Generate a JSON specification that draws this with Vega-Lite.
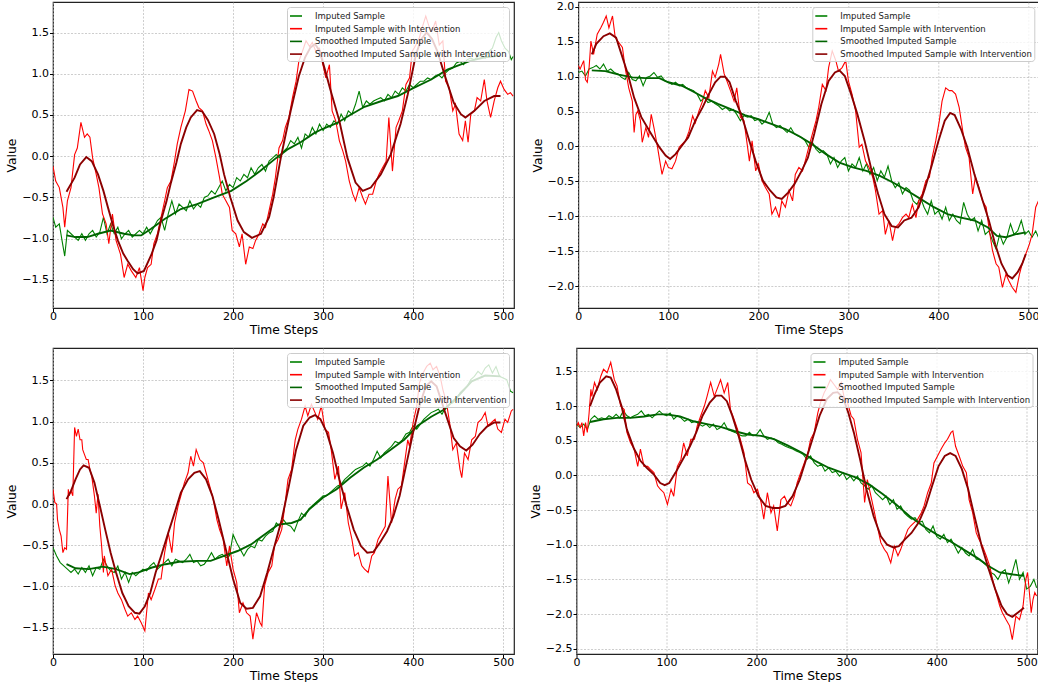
{
"$schema": "https://vega.github.io/schema/vega-lite/v6.json",
"background": "white",
"padding": {"left": 5, "top": 0, "right": 0, "bottom": 0},
"spacing": 11,
"resolve": {"scale": {"color": "independent"}, "legend": {"color": "independent"}},
"datasets": {
"a1": [{"t":0,"v":-0.74},{"t":3,"v":-0.86},{"t":7,"v":-0.82},{"t":10,"v":-1.02},{"t":13,"v":-1.21},{"t":16,"v":-0.90},{"t":20,"v":-0.94},{"t":24,"v":-0.98},{"t":28,"v":-1.02},{"t":32,"v":-0.94},{"t":36,"v":-1.02},{"t":40,"v":-0.94},{"t":44,"v":-0.90},{"t":48,"v":-0.98},{"t":52,"v":-0.92},{"t":56,"v":-0.74},{"t":60,"v":-0.94},{"t":64,"v":-0.82},{"t":68,"v":-0.94},{"t":72,"v":-0.86},{"t":76,"v":-1.00},{"t":80,"v":-0.94},{"t":84,"v":-0.90},{"t":88,"v":-0.98},{"t":92,"v":-0.94},{"t":96,"v":-0.90},{"t":100,"v":-0.94},{"t":104,"v":-0.86},{"t":108,"v":-0.94},{"t":112,"v":-0.86},{"t":116,"v":-0.78},{"t":120,"v":-0.74},{"t":124,"v":-0.90},{"t":128,"v":-0.70},{"t":132,"v":-0.54},{"t":136,"v":-0.70},{"t":140,"v":-0.58},{"t":144,"v":-0.62},{"t":148,"v":-0.66},{"t":152,"v":-0.54},{"t":156,"v":-0.64},{"t":160,"v":-0.58},{"t":164,"v":-0.62},{"t":168,"v":-0.50},{"t":172,"v":-0.48},{"t":176,"v":-0.42},{"t":180,"v":-0.46},{"t":184,"v":-0.38},{"t":188,"v":-0.30},{"t":192,"v":-0.42},{"t":196,"v":-0.34},{"t":200,"v":-0.38},{"t":204,"v":-0.26},{"t":208,"v":-0.30},{"t":212,"v":-0.22},{"t":216,"v":-0.26},{"t":220,"v":-0.14},{"t":224,"v":-0.22},{"t":228,"v":-0.14},{"t":232,"v":-0.10},{"t":236,"v":-0.18},{"t":240,"v":-0.06},{"t":244,"v":-0.02},{"t":248,"v":0.02},{"t":252,"v":-0.02},{"t":256,"v":0.06},{"t":260,"v":0.10},{"t":264,"v":0.19},{"t":268,"v":0.15},{"t":272,"v":0.23},{"t":276,"v":0.10},{"t":280,"v":0.27},{"t":284,"v":0.23},{"t":288,"v":0.35},{"t":292,"v":0.27},{"t":296,"v":0.39},{"t":300,"v":0.31},{"t":304,"v":0.39},{"t":308,"v":0.35},{"t":312,"v":0.43},{"t":316,"v":0.39},{"t":320,"v":0.51},{"t":324,"v":0.43},{"t":328,"v":0.55},{"t":332,"v":0.51},{"t":336,"v":0.63},{"t":340,"v":0.79},{"t":344,"v":0.59},{"t":348,"v":0.67},{"t":352,"v":0.63},{"t":356,"v":0.67},{"t":360,"v":0.69},{"t":364,"v":0.71},{"t":368,"v":0.67},{"t":372,"v":0.75},{"t":376,"v":0.71},{"t":380,"v":0.79},{"t":384,"v":0.75},{"t":388,"v":0.83},{"t":392,"v":0.79},{"t":396,"v":0.87},{"t":400,"v":0.83},{"t":404,"v":0.87},{"t":408,"v":0.91},{"t":412,"v":0.91},{"t":416,"v":0.95},{"t":420,"v":0.93},{"t":424,"v":0.97},{"t":428,"v":0.99},{"t":432,"v":0.95},{"t":436,"v":1.01},{"t":440,"v":1.05},{"t":444,"v":1.07},{"t":448,"v":1.13},{"t":452,"v":1.15},{"t":456,"v":1.11},{"t":460,"v":1.17},{"t":464,"v":1.19},{"t":468,"v":1.17},{"t":472,"v":1.21},{"t":476,"v":1.23},{"t":480,"v":1.19},{"t":484,"v":1.27},{"t":488,"v":1.31},{"t":492,"v":1.44},{"t":495,"v":1.50},{"t":498,"v":1.40},{"t":502,"v":1.31},{"t":506,"v":1.27},{"t":509,"v":1.17},{"t":511,"v":1.21}],
"b1": [{"t":0,"v":-0.12},{"t":3,"v":-0.30},{"t":7,"v":-0.38},{"t":11,"v":-0.62},{"t":13,"v":-0.86},{"t":16,"v":-0.54},{"t":20,"v":-0.38},{"t":24,"v":0.02},{"t":27,"v":0.10},{"t":31,"v":0.41},{"t":35,"v":0.23},{"t":38,"v":0.27},{"t":41,"v":0.23},{"t":44,"v":-0.02},{"t":48,"v":-0.22},{"t":51,"v":-0.38},{"t":55,"v":-0.70},{"t":59,"v":-0.82},{"t":62,"v":-1.06},{"t":66,"v":-0.70},{"t":70,"v":-1.02},{"t":75,"v":-1.19},{"t":79,"v":-1.47},{"t":83,"v":-1.31},{"t":87,"v":-1.39},{"t":92,"v":-1.47},{"t":96,"v":-1.35},{"t":100,"v":-1.63},{"t":102,"v":-1.47},{"t":105,"v":-1.35},{"t":109,"v":-1.31},{"t":112,"v":-1.06},{"t":116,"v":-0.94},{"t":120,"v":-0.74},{"t":124,"v":-0.54},{"t":127,"v":-0.38},{"t":131,"v":-0.30},{"t":135,"v":-0.06},{"t":138,"v":0.15},{"t":142,"v":0.35},{"t":147,"v":0.55},{"t":151,"v":0.81},{"t":155,"v":0.79},{"t":159,"v":0.67},{"t":162,"v":0.59},{"t":166,"v":0.55},{"t":170,"v":0.39},{"t":173,"v":0.31},{"t":177,"v":0.19},{"t":181,"v":-0.02},{"t":185,"v":-0.26},{"t":188,"v":-0.46},{"t":192,"v":-0.54},{"t":196,"v":-0.62},{"t":199,"v":-0.90},{"t":203,"v":-0.94},{"t":207,"v":-1.10},{"t":210,"v":-0.94},{"t":214,"v":-1.31},{"t":218,"v":-1.10},{"t":222,"v":-1.12},{"t":225,"v":-1.02},{"t":229,"v":-0.94},{"t":233,"v":-0.82},{"t":236,"v":-0.86},{"t":240,"v":-0.66},{"t":244,"v":-0.46},{"t":247,"v":-0.26},{"t":251,"v":0.10},{"t":255,"v":0.19},{"t":258,"v":0.35},{"t":262,"v":0.47},{"t":266,"v":0.71},{"t":270,"v":0.91},{"t":273,"v":1.15},{"t":277,"v":1.27},{"t":281,"v":1.40},{"t":285,"v":1.33},{"t":288,"v":1.38},{"t":292,"v":1.27},{"t":296,"v":1.31},{"t":299,"v":1.15},{"t":303,"v":0.95},{"t":307,"v":1.11},{"t":310,"v":0.55},{"t":314,"v":0.43},{"t":318,"v":0.19},{"t":322,"v":0.06},{"t":325,"v":-0.06},{"t":329,"v":-0.30},{"t":333,"v":-0.46},{"t":336,"v":-0.54},{"t":340,"v":-0.38},{"t":344,"v":-0.50},{"t":347,"v":-0.58},{"t":351,"v":-0.46},{"t":355,"v":-0.46},{"t":359,"v":-0.30},{"t":362,"v":-0.22},{"t":366,"v":-0.14},{"t":370,"v":-0.06},{"t":373,"v":0.47},{"t":377,"v":-0.18},{"t":381,"v":0.35},{"t":384,"v":0.43},{"t":388,"v":0.55},{"t":392,"v":0.87},{"t":396,"v":0.95},{"t":399,"v":1.27},{"t":403,"v":1.35},{"t":407,"v":1.44},{"t":410,"v":1.56},{"t":414,"v":1.70},{"t":418,"v":1.56},{"t":421,"v":1.52},{"t":425,"v":1.64},{"t":429,"v":1.35},{"t":433,"v":1.40},{"t":436,"v":0.91},{"t":440,"v":0.83},{"t":444,"v":0.55},{"t":447,"v":0.63},{"t":451,"v":0.27},{"t":455,"v":0.19},{"t":458,"v":0.43},{"t":461,"v":0.17},{"t":464,"v":0.51},{"t":468,"v":0.55},{"t":471,"v":0.71},{"t":475,"v":0.67},{"t":479,"v":0.93},{"t":482,"v":0.67},{"t":486,"v":0.47},{"t":490,"v":0.67},{"t":494,"v":0.83},{"t":497,"v":0.91},{"t":501,"v":0.81},{"t":505,"v":0.75},{"t":508,"v":0.77},{"t":511,"v":0.73}],
"c1": [{"t":15,"v":-0.96},{"t":25,"v":-0.98},{"t":38,"v":-0.98},{"t":50,"v":-0.94},{"t":64,"v":-0.90},{"t":79,"v":-0.94},{"t":90,"v":-0.96},{"t":98,"v":-0.96},{"t":109,"v":-0.88},{"t":124,"v":-0.76},{"t":142,"v":-0.64},{"t":160,"v":-0.58},{"t":179,"v":-0.50},{"t":198,"v":-0.42},{"t":215,"v":-0.30},{"t":230,"v":-0.18},{"t":248,"v":-0.02},{"t":260,"v":0.08},{"t":275,"v":0.17},{"t":290,"v":0.28},{"t":299,"v":0.33},{"t":315,"v":0.40},{"t":330,"v":0.50},{"t":346,"v":0.60},{"t":365,"v":0.67},{"t":383,"v":0.73},{"t":399,"v":0.82},{"t":420,"v":0.93},{"t":438,"v":1.05},{"t":464,"v":1.16},{"t":480,"v":1.20},{"t":497,"v":1.22}],
"d1": [{"t":15,"v":-0.43},{"t":24,"v":-0.26},{"t":30,"v":-0.10},{"t":37,"v":-0.01},{"t":43,"v":-0.06},{"t":50,"v":-0.22},{"t":56,"v":-0.42},{"t":61,"v":-0.62},{"t":67,"v":-0.85},{"t":72,"v":-1.02},{"t":78,"v":-1.18},{"t":83,"v":-1.27},{"t":89,"v":-1.37},{"t":94,"v":-1.42},{"t":101,"v":-1.39},{"t":109,"v":-1.20},{"t":115,"v":-1.02},{"t":120,"v":-0.78},{"t":126,"v":-0.55},{"t":131,"v":-0.32},{"t":137,"v":-0.08},{"t":142,"v":0.15},{"t":148,"v":0.35},{"t":153,"v":0.47},{"t":160,"v":0.56},{"t":166,"v":0.54},{"t":172,"v":0.44},{"t":179,"v":0.27},{"t":185,"v":0.03},{"t":190,"v":-0.22},{"t":197,"v":-0.50},{"t":205,"v":-0.78},{"t":212,"v":-0.92},{"t":221,"v":-0.99},{"t":231,"v":-0.94},{"t":240,"v":-0.74},{"t":245,"v":-0.50},{"t":249,"v":-0.26},{"t":253,"v":-0.02},{"t":257,"v":0.19},{"t":264,"v":0.55},{"t":273,"v":0.97},{"t":280,"v":1.20},{"t":286,"v":1.32},{"t":291,"v":1.36},{"t":296,"v":1.28},{"t":302,"v":1.05},{"t":308,"v":0.81},{"t":318,"v":0.43},{"t":327,"v":-0.02},{"t":336,"v":-0.32},{"t":344,"v":-0.42},{"t":353,"v":-0.38},{"t":364,"v":-0.22},{"t":375,"v":0.02},{"t":386,"v":0.39},{"t":394,"v":0.75},{"t":403,"v":1.23},{"t":409,"v":1.42},{"t":415,"v":1.50},{"t":421,"v":1.42},{"t":427,"v":1.27},{"t":436,"v":0.95},{"t":445,"v":0.65},{"t":453,"v":0.51},{"t":458,"v":0.47},{"t":468,"v":0.55},{"t":479,"v":0.67},{"t":490,"v":0.73},{"t":497,"v":0.73}],
"a2": [{"t":0,"v":1.06},{"t":4,"v":1.08},{"t":8,"v":1.01},{"t":12,"v":1.11},{"t":16,"v":1.13},{"t":20,"v":1.16},{"t":24,"v":1.11},{"t":28,"v":1.18},{"t":32,"v":1.08},{"t":36,"v":1.11},{"t":40,"v":1.06},{"t":44,"v":1.04},{"t":48,"v":0.99},{"t":52,"v":0.96},{"t":56,"v":1.06},{"t":60,"v":0.96},{"t":64,"v":0.94},{"t":68,"v":1.01},{"t":72,"v":0.87},{"t":76,"v":0.99},{"t":80,"v":1.01},{"t":84,"v":1.06},{"t":88,"v":0.99},{"t":92,"v":1.01},{"t":96,"v":0.94},{"t":100,"v":0.92},{"t":104,"v":0.89},{"t":108,"v":0.92},{"t":112,"v":0.87},{"t":116,"v":0.89},{"t":120,"v":0.84},{"t":124,"v":0.82},{"t":128,"v":0.80},{"t":132,"v":0.75},{"t":136,"v":0.65},{"t":140,"v":0.70},{"t":144,"v":0.63},{"t":148,"v":0.65},{"t":152,"v":0.61},{"t":156,"v":0.58},{"t":160,"v":0.53},{"t":164,"v":0.56},{"t":168,"v":0.51},{"t":172,"v":0.53},{"t":176,"v":0.46},{"t":180,"v":0.37},{"t":184,"v":0.44},{"t":188,"v":0.42},{"t":192,"v":0.44},{"t":196,"v":0.37},{"t":200,"v":0.39},{"t":204,"v":0.32},{"t":208,"v":0.37},{"t":212,"v":0.49},{"t":216,"v":0.32},{"t":220,"v":0.27},{"t":224,"v":0.30},{"t":228,"v":0.25},{"t":232,"v":0.20},{"t":236,"v":0.27},{"t":240,"v":0.18},{"t":244,"v":0.15},{"t":248,"v":0.13},{"t":252,"v":0.08},{"t":256,"v":-0.01},{"t":260,"v":0.06},{"t":264,"v":-0.04},{"t":268,"v":-0.09},{"t":272,"v":-0.06},{"t":276,"v":-0.11},{"t":280,"v":-0.25},{"t":284,"v":-0.16},{"t":288,"v":-0.30},{"t":292,"v":-0.21},{"t":296,"v":-0.16},{"t":300,"v":-0.35},{"t":304,"v":-0.25},{"t":308,"v":-0.30},{"t":312,"v":-0.16},{"t":316,"v":-0.35},{"t":320,"v":-0.25},{"t":324,"v":-0.40},{"t":328,"v":-0.30},{"t":332,"v":-0.49},{"t":336,"v":-0.35},{"t":340,"v":-0.44},{"t":344,"v":-0.28},{"t":348,"v":-0.49},{"t":352,"v":-0.59},{"t":356,"v":-0.52},{"t":360,"v":-0.68},{"t":364,"v":-0.59},{"t":368,"v":-0.63},{"t":372,"v":-0.78},{"t":376,"v":-0.83},{"t":380,"v":-0.73},{"t":384,"v":-0.87},{"t":388,"v":-0.97},{"t":392,"v":-0.78},{"t":396,"v":-0.97},{"t":400,"v":-0.92},{"t":404,"v":-1.04},{"t":408,"v":-0.87},{"t":412,"v":-1.06},{"t":416,"v":-0.97},{"t":420,"v":-1.06},{"t":424,"v":-1.11},{"t":428,"v":-0.80},{"t":432,"v":-0.97},{"t":436,"v":-1.06},{"t":440,"v":-1.02},{"t":444,"v":-1.21},{"t":448,"v":-1.06},{"t":452,"v":-1.26},{"t":456,"v":-1.21},{"t":460,"v":-1.35},{"t":464,"v":-1.47},{"t":468,"v":-1.26},{"t":472,"v":-1.40},{"t":476,"v":-1.30},{"t":480,"v":-1.11},{"t":484,"v":-1.26},{"t":488,"v":-1.21},{"t":492,"v":-1.06},{"t":496,"v":-1.26},{"t":500,"v":-1.21},{"t":504,"v":-1.30},{"t":508,"v":-1.21},{"t":511,"v":-1.30}],
"b2": [{"t":0,"v":1.16},{"t":2,"v":1.11},{"t":6,"v":1.23},{"t":8,"v":0.96},{"t":10,"v":0.92},{"t":12,"v":1.13},{"t":14,"v":1.51},{"t":17,"v":1.32},{"t":21,"v":1.61},{"t":25,"v":1.70},{"t":28,"v":1.78},{"t":31,"v":1.87},{"t":34,"v":1.70},{"t":38,"v":1.87},{"t":41,"v":1.56},{"t":45,"v":1.49},{"t":49,"v":1.42},{"t":52,"v":1.13},{"t":56,"v":0.84},{"t":60,"v":0.65},{"t":62,"v":0.20},{"t":64,"v":0.46},{"t":66,"v":0.51},{"t":69,"v":0.37},{"t":71,"v":0.06},{"t":75,"v":0.27},{"t":78,"v":0.13},{"t":81,"v":0.46},{"t":84,"v":0.27},{"t":88,"v":-0.01},{"t":91,"v":-0.25},{"t":93,"v":-0.40},{"t":97,"v":-0.21},{"t":100,"v":-0.30},{"t":104,"v":-0.32},{"t":108,"v":-0.21},{"t":112,"v":-0.01},{"t":115,"v":0.03},{"t":119,"v":0.08},{"t":123,"v":0.22},{"t":127,"v":0.44},{"t":130,"v":0.34},{"t":134,"v":0.51},{"t":138,"v":0.65},{"t":141,"v":0.80},{"t":145,"v":0.70},{"t":149,"v":1.08},{"t":152,"v":0.99},{"t":156,"v":1.18},{"t":158,"v":1.32},{"t":162,"v":1.04},{"t":165,"v":0.94},{"t":169,"v":0.80},{"t":173,"v":0.65},{"t":176,"v":0.84},{"t":180,"v":0.42},{"t":184,"v":0.37},{"t":188,"v":-0.01},{"t":190,"v":-0.21},{"t":193,"v":0.08},{"t":197,"v":-0.35},{"t":200,"v":-0.25},{"t":204,"v":-0.49},{"t":208,"v":-0.59},{"t":212,"v":-0.68},{"t":215,"v":-0.97},{"t":219,"v":-0.87},{"t":223,"v":-1.02},{"t":226,"v":-0.78},{"t":230,"v":-0.87},{"t":234,"v":-0.63},{"t":238,"v":-0.78},{"t":241,"v":-0.40},{"t":245,"v":-0.30},{"t":249,"v":-0.35},{"t":252,"v":-0.21},{"t":256,"v":-0.01},{"t":260,"v":0.18},{"t":264,"v":0.37},{"t":267,"v":0.56},{"t":271,"v":0.89},{"t":275,"v":0.80},{"t":278,"v":1.13},{"t":282,"v":1.37},{"t":286,"v":1.23},{"t":289,"v":1.08},{"t":293,"v":1.13},{"t":297,"v":1.23},{"t":300,"v":0.94},{"t":304,"v":0.75},{"t":308,"v":0.51},{"t":312,"v":-0.01},{"t":315,"v":0.03},{"t":319,"v":-0.21},{"t":323,"v":-0.30},{"t":327,"v":-0.44},{"t":330,"v":-0.63},{"t":334,"v":-0.97},{"t":338,"v":-0.92},{"t":341,"v":-1.26},{"t":345,"v":-1.06},{"t":349,"v":-1.35},{"t":352,"v":-1.16},{"t":356,"v":-1.11},{"t":360,"v":-1.02},{"t":364,"v":-0.97},{"t":367,"v":-1.02},{"t":371,"v":-0.83},{"t":375,"v":-1.02},{"t":378,"v":-0.78},{"t":382,"v":-0.68},{"t":386,"v":-0.49},{"t":390,"v":-0.44},{"t":393,"v":-0.16},{"t":397,"v":0.08},{"t":401,"v":0.37},{"t":404,"v":0.65},{"t":408,"v":0.84},{"t":412,"v":0.80},{"t":415,"v":0.80},{"t":419,"v":0.75},{"t":423,"v":0.56},{"t":427,"v":0.22},{"t":430,"v":-0.01},{"t":434,"v":-0.16},{"t":438,"v":-0.68},{"t":441,"v":-0.44},{"t":445,"v":-0.59},{"t":449,"v":-0.78},{"t":453,"v":-0.87},{"t":456,"v":-1.16},{"t":460,"v":-1.49},{"t":464,"v":-1.68},{"t":467,"v":-1.73},{"t":471,"v":-2.02},{"t":475,"v":-1.83},{"t":478,"v":-1.92},{"t":482,"v":-2.02},{"t":486,"v":-2.09},{"t":490,"v":-1.83},{"t":493,"v":-1.68},{"t":497,"v":-1.54},{"t":501,"v":-1.40},{"t":504,"v":-1.26},{"t":508,"v":-0.87},{"t":511,"v":-0.78}],
"c2": [{"t":15,"v":1.09},{"t":30,"v":1.08},{"t":45,"v":1.03},{"t":60,"v":0.99},{"t":75,"v":0.98},{"t":90,"v":0.98},{"t":100,"v":0.92},{"t":115,"v":0.87},{"t":130,"v":0.77},{"t":140,"v":0.70},{"t":155,"v":0.61},{"t":170,"v":0.53},{"t":185,"v":0.45},{"t":200,"v":0.39},{"t":215,"v":0.32},{"t":230,"v":0.25},{"t":245,"v":0.15},{"t":260,"v":0.03},{"t":275,"v":-0.11},{"t":290,"v":-0.23},{"t":305,"v":-0.30},{"t":320,"v":-0.35},{"t":335,"v":-0.42},{"t":350,"v":-0.52},{"t":365,"v":-0.63},{"t":380,"v":-0.75},{"t":395,"v":-0.87},{"t":410,"v":-0.97},{"t":425,"v":-1.02},{"t":440,"v":-1.06},{"t":455,"v":-1.16},{"t":465,"v":-1.28},{"t":475,"v":-1.30},{"t":485,"v":-1.26},{"t":497,"v":-1.23}],
"d2": [{"t":15,"v":1.32},{"t":20,"v":1.47},{"t":28,"v":1.58},{"t":35,"v":1.62},{"t":42,"v":1.56},{"t":48,"v":1.32},{"t":55,"v":1.04},{"t":62,"v":0.70},{"t":70,"v":0.42},{"t":80,"v":0.20},{"t":90,"v":-0.01},{"t":97,"v":-0.13},{"t":102,"v":-0.18},{"t":108,"v":-0.11},{"t":115,"v":0.01},{"t":122,"v":0.13},{"t":130,"v":0.37},{"t":138,"v":0.56},{"t":145,"v":0.75},{"t":152,"v":0.92},{"t":158,"v":1.00},{"t":163,"v":1.00},{"t":168,"v":0.92},{"t":175,"v":0.65},{"t":182,"v":0.42},{"t":190,"v":0.08},{"t":197,"v":-0.21},{"t":205,"v":-0.49},{"t":213,"v":-0.63},{"t":220,"v":-0.73},{"t":226,"v":-0.75},{"t":233,"v":-0.66},{"t":240,"v":-0.54},{"t":248,"v":-0.35},{"t":255,"v":-0.16},{"t":262,"v":0.18},{"t":270,"v":0.61},{"t":278,"v":0.94},{"t":285,"v":1.06},{"t":290,"v":1.09},{"t":296,"v":1.01},{"t":303,"v":0.75},{"t":310,"v":0.46},{"t":318,"v":0.08},{"t":325,"v":-0.30},{"t":333,"v":-0.68},{"t":340,"v":-0.97},{"t":348,"v":-1.14},{"t":355,"v":-1.16},{"t":362,"v":-1.06},{"t":370,"v":-1.02},{"t":378,"v":-0.87},{"t":385,"v":-0.60},{"t":393,"v":-0.25},{"t":400,"v":0.08},{"t":407,"v":0.37},{"t":413,"v":0.48},{"t":418,"v":0.45},{"t":425,"v":0.25},{"t":432,"v":-0.01},{"t":440,"v":-0.40},{"t":448,"v":-0.73},{"t":456,"v":-1.06},{"t":463,"v":-1.40},{"t":470,"v":-1.68},{"t":477,"v":-1.85},{"t":482,"v":-1.89},{"t":488,"v":-1.80},{"t":493,"v":-1.68},{"t":497,"v":-1.54}],
"a3": [{"t":0,"v":-0.53},{"t":4,"v":-0.63},{"t":8,"v":-0.71},{"t":12,"v":-0.75},{"t":16,"v":-0.79},{"t":20,"v":-0.83},{"t":24,"v":-0.79},{"t":28,"v":-0.85},{"t":32,"v":-0.77},{"t":36,"v":-0.83},{"t":40,"v":-0.75},{"t":44,"v":-0.87},{"t":48,"v":-0.77},{"t":52,"v":-0.79},{"t":56,"v":-0.67},{"t":60,"v":-0.75},{"t":64,"v":-0.81},{"t":68,"v":-0.83},{"t":72,"v":-0.75},{"t":76,"v":-0.91},{"t":80,"v":-0.83},{"t":84,"v":-0.95},{"t":88,"v":-0.83},{"t":92,"v":-0.87},{"t":96,"v":-0.83},{"t":100,"v":-0.79},{"t":104,"v":-0.81},{"t":108,"v":-0.75},{"t":112,"v":-0.71},{"t":116,"v":-0.79},{"t":120,"v":-0.75},{"t":124,"v":-0.71},{"t":128,"v":-0.67},{"t":132,"v":-0.75},{"t":136,"v":-0.67},{"t":140,"v":-0.69},{"t":144,"v":-0.71},{"t":148,"v":-0.67},{"t":152,"v":-0.61},{"t":156,"v":-0.71},{"t":160,"v":-0.69},{"t":164,"v":-0.75},{"t":168,"v":-0.73},{"t":172,"v":-0.67},{"t":176,"v":-0.59},{"t":180,"v":-0.67},{"t":184,"v":-0.63},{"t":188,"v":-0.61},{"t":192,"v":-0.65},{"t":196,"v":-0.63},{"t":200,"v":-0.37},{"t":204,"v":-0.47},{"t":208,"v":-0.55},{"t":212,"v":-0.63},{"t":216,"v":-0.55},{"t":220,"v":-0.51},{"t":224,"v":-0.53},{"t":228,"v":-0.43},{"t":232,"v":-0.45},{"t":236,"v":-0.39},{"t":240,"v":-0.35},{"t":244,"v":-0.33},{"t":248,"v":-0.23},{"t":252,"v":-0.27},{"t":256,"v":-0.19},{"t":260,"v":-0.25},{"t":264,"v":-0.27},{"t":268,"v":-0.33},{"t":272,"v":-0.21},{"t":276,"v":-0.11},{"t":280,"v":-0.15},{"t":284,"v":-0.06},{"t":288,"v":-0.02},{"t":292,"v":0.02},{"t":296,"v":0.06},{"t":300,"v":0.10},{"t":304,"v":0.10},{"t":308,"v":0.14},{"t":312,"v":0.18},{"t":316,"v":0.22},{"t":320,"v":0.24},{"t":324,"v":0.30},{"t":328,"v":0.34},{"t":332,"v":0.38},{"t":336,"v":0.42},{"t":340,"v":0.44},{"t":344,"v":0.46},{"t":348,"v":0.50},{"t":352,"v":0.46},{"t":356,"v":0.54},{"t":360,"v":0.64},{"t":364,"v":0.56},{"t":368,"v":0.62},{"t":372,"v":0.66},{"t":376,"v":0.70},{"t":380,"v":0.76},{"t":384,"v":0.74},{"t":388,"v":0.78},{"t":392,"v":0.85},{"t":396,"v":0.87},{"t":400,"v":0.95},{"t":404,"v":0.91},{"t":408,"v":0.97},{"t":412,"v":1.03},{"t":416,"v":1.07},{"t":420,"v":1.11},{"t":424,"v":1.13},{"t":428,"v":1.15},{"t":432,"v":1.09},{"t":436,"v":1.17},{"t":440,"v":1.21},{"t":444,"v":1.23},{"t":448,"v":1.27},{"t":452,"v":1.35},{"t":456,"v":1.39},{"t":460,"v":1.43},{"t":464,"v":1.51},{"t":468,"v":1.55},{"t":472,"v":1.61},{"t":476,"v":1.57},{"t":480,"v":1.65},{"t":484,"v":1.69},{"t":488,"v":1.59},{"t":492,"v":1.67},{"t":496,"v":1.55},{"t":500,"v":1.53},{"t":504,"v":1.51},{"t":508,"v":1.37},{"t":511,"v":1.35}],
"b3": [{"t":0,"v":0.18},{"t":2,"v":0.02},{"t":4,"v":0.00},{"t":5,"v":-0.19},{"t":7,"v":-0.31},{"t":9,"v":-0.39},{"t":11,"v":-0.59},{"t":13,"v":-0.53},{"t":15,"v":-0.55},{"t":17,"v":0.18},{"t":18,"v":0.10},{"t":20,"v":0.16},{"t":22,"v":0.10},{"t":24,"v":0.93},{"t":26,"v":0.82},{"t":28,"v":0.91},{"t":30,"v":0.78},{"t":32,"v":0.78},{"t":33,"v":0.66},{"t":35,"v":0.60},{"t":37,"v":0.54},{"t":39,"v":0.54},{"t":41,"v":0.42},{"t":43,"v":0.34},{"t":46,"v":0.10},{"t":48,"v":-0.11},{"t":50,"v":0.12},{"t":52,"v":-0.27},{"t":54,"v":-0.51},{"t":56,"v":-0.83},{"t":57,"v":-0.63},{"t":59,"v":-0.75},{"t":61,"v":-0.87},{"t":65,"v":-0.79},{"t":69,"v":-0.99},{"t":72,"v":-1.08},{"t":76,"v":-1.16},{"t":80,"v":-1.28},{"t":83,"v":-1.36},{"t":87,"v":-1.32},{"t":91,"v":-1.40},{"t":94,"v":-1.36},{"t":98,"v":-1.44},{"t":102,"v":-1.54},{"t":106,"v":-1.08},{"t":109,"v":-1.16},{"t":113,"v":-1.04},{"t":117,"v":-0.91},{"t":120,"v":-0.91},{"t":124,"v":-0.59},{"t":128,"v":-0.35},{"t":132,"v":-0.59},{"t":135,"v":-0.23},{"t":139,"v":-0.02},{"t":143,"v":0.14},{"t":146,"v":0.26},{"t":150,"v":0.38},{"t":153,"v":0.58},{"t":156,"v":0.46},{"t":159,"v":0.66},{"t":163,"v":0.54},{"t":167,"v":0.50},{"t":170,"v":0.38},{"t":174,"v":0.22},{"t":178,"v":0.06},{"t":182,"v":-0.19},{"t":185,"v":-0.31},{"t":189,"v":-0.43},{"t":193,"v":-0.75},{"t":196,"v":-0.51},{"t":200,"v":-0.79},{"t":204,"v":-0.95},{"t":207,"v":-1.32},{"t":211,"v":-1.20},{"t":215,"v":-1.32},{"t":219,"v":-1.36},{"t":222,"v":-1.64},{"t":226,"v":-1.32},{"t":230,"v":-1.44},{"t":232,"v":-1.48},{"t":235,"v":-0.99},{"t":239,"v":-0.83},{"t":243,"v":-0.75},{"t":246,"v":-0.51},{"t":250,"v":-0.43},{"t":254,"v":-0.31},{"t":257,"v":-0.06},{"t":261,"v":0.30},{"t":265,"v":0.42},{"t":269,"v":0.78},{"t":272,"v":0.91},{"t":276,"v":1.03},{"t":280,"v":1.19},{"t":283,"v":1.07},{"t":287,"v":1.21},{"t":291,"v":1.11},{"t":294,"v":1.03},{"t":298,"v":1.19},{"t":302,"v":0.91},{"t":306,"v":0.87},{"t":309,"v":0.66},{"t":313,"v":0.30},{"t":317,"v":0.46},{"t":320,"v":-0.06},{"t":324,"v":0.14},{"t":328,"v":-0.23},{"t":332,"v":-0.43},{"t":335,"v":-0.63},{"t":339,"v":-0.59},{"t":343,"v":-0.75},{"t":346,"v":-0.79},{"t":350,"v":-0.83},{"t":354,"v":-0.63},{"t":357,"v":-0.59},{"t":361,"v":-0.43},{"t":365,"v":-0.35},{"t":369,"v":-0.27},{"t":372,"v":0.34},{"t":376,"v":-0.23},{"t":380,"v":0.06},{"t":383,"v":0.18},{"t":387,"v":0.22},{"t":391,"v":0.54},{"t":394,"v":0.78},{"t":396,"v":0.70},{"t":400,"v":0.99},{"t":404,"v":1.19},{"t":407,"v":1.47},{"t":411,"v":1.59},{"t":415,"v":1.67},{"t":419,"v":1.71},{"t":422,"v":1.63},{"t":426,"v":1.67},{"t":430,"v":1.55},{"t":433,"v":1.39},{"t":437,"v":1.23},{"t":441,"v":0.95},{"t":444,"v":0.66},{"t":448,"v":0.74},{"t":452,"v":0.42},{"t":454,"v":0.32},{"t":457,"v":0.62},{"t":461,"v":0.54},{"t":465,"v":0.78},{"t":469,"v":0.82},{"t":472,"v":0.99},{"t":476,"v":1.03},{"t":480,"v":1.11},{"t":483,"v":0.95},{"t":487,"v":0.99},{"t":491,"v":1.03},{"t":494,"v":0.91},{"t":498,"v":0.87},{"t":502,"v":1.03},{"t":505,"v":0.99},{"t":509,"v":1.13},{"t":511,"v":1.15}],
"c3": [{"t":15,"v":-0.73},{"t":25,"v":-0.78},{"t":40,"v":-0.79},{"t":55,"v":-0.76},{"t":70,"v":-0.79},{"t":85,"v":-0.85},{"t":95,"v":-0.83},{"t":110,"v":-0.77},{"t":125,"v":-0.73},{"t":140,"v":-0.70},{"t":160,"v":-0.69},{"t":175,"v":-0.69},{"t":190,"v":-0.63},{"t":205,"v":-0.57},{"t":220,"v":-0.49},{"t":235,"v":-0.37},{"t":250,"v":-0.25},{"t":265,"v":-0.23},{"t":275,"v":-0.19},{"t":285,"v":-0.06},{"t":300,"v":0.08},{"t":315,"v":0.18},{"t":330,"v":0.32},{"t":345,"v":0.44},{"t":360,"v":0.54},{"t":375,"v":0.66},{"t":390,"v":0.78},{"t":405,"v":0.95},{"t":420,"v":1.06},{"t":435,"v":1.15},{"t":450,"v":1.31},{"t":465,"v":1.49},{"t":480,"v":1.56},{"t":497,"v":1.55}],
"d3": [{"t":15,"v":0.06},{"t":20,"v":0.16},{"t":25,"v":0.30},{"t":30,"v":0.42},{"t":34,"v":0.47},{"t":40,"v":0.44},{"t":46,"v":0.26},{"t":52,"v":-0.02},{"t":58,"v":-0.31},{"t":64,"v":-0.59},{"t":70,"v":-0.83},{"t":77,"v":-1.08},{"t":84,"v":-1.24},{"t":91,"v":-1.32},{"t":96,"v":-1.33},{"t":102,"v":-1.24},{"t":108,"v":-1.08},{"t":114,"v":-0.83},{"t":120,"v":-0.63},{"t":128,"v":-0.35},{"t":135,"v":-0.11},{"t":142,"v":0.14},{"t":150,"v":0.30},{"t":157,"v":0.38},{"t":163,"v":0.40},{"t":170,"v":0.30},{"t":177,"v":0.10},{"t":184,"v":-0.19},{"t":192,"v":-0.55},{"t":200,"v":-0.91},{"t":208,"v":-1.20},{"t":215,"v":-1.27},{"t":222,"v":-1.26},{"t":230,"v":-1.12},{"t":238,"v":-0.83},{"t":246,"v":-0.51},{"t":254,"v":-0.19},{"t":262,"v":0.22},{"t":270,"v":0.66},{"t":278,"v":0.95},{"t":285,"v":1.05},{"t":291,"v":1.08},{"t":297,"v":1.03},{"t":304,"v":0.87},{"t":311,"v":0.62},{"t":318,"v":0.30},{"t":326,"v":-0.02},{"t":334,"v":-0.31},{"t":342,"v":-0.51},{"t":349,"v":-0.59},{"t":356,"v":-0.58},{"t":363,"v":-0.47},{"t":371,"v":-0.33},{"t":378,"v":-0.15},{"t":385,"v":0.10},{"t":392,"v":0.46},{"t":400,"v":0.87},{"t":407,"v":1.19},{"t":414,"v":1.43},{"t":420,"v":1.49},{"t":426,"v":1.43},{"t":432,"v":1.23},{"t":438,"v":1.03},{"t":445,"v":0.80},{"t":452,"v":0.70},{"t":459,"v":0.65},{"t":466,"v":0.72},{"t":474,"v":0.85},{"t":482,"v":0.94},{"t":490,"v":0.99},{"t":497,"v":0.99}],
"a4": [{"t":0,"v":0.74},{"t":4,"v":0.69},{"t":8,"v":0.74},{"t":12,"v":0.66},{"t":16,"v":0.81},{"t":20,"v":0.86},{"t":24,"v":0.81},{"t":28,"v":0.83},{"t":32,"v":0.81},{"t":36,"v":0.86},{"t":40,"v":0.83},{"t":44,"v":0.88},{"t":48,"v":0.83},{"t":52,"v":0.93},{"t":56,"v":0.86},{"t":60,"v":0.83},{"t":64,"v":0.86},{"t":68,"v":0.88},{"t":72,"v":0.93},{"t":76,"v":0.86},{"t":80,"v":0.88},{"t":84,"v":0.83},{"t":88,"v":0.88},{"t":92,"v":0.93},{"t":96,"v":0.88},{"t":100,"v":0.86},{"t":104,"v":0.90},{"t":108,"v":0.81},{"t":112,"v":0.86},{"t":116,"v":0.83},{"t":120,"v":0.78},{"t":124,"v":0.81},{"t":128,"v":0.76},{"t":132,"v":0.78},{"t":136,"v":0.74},{"t":140,"v":0.71},{"t":144,"v":0.74},{"t":148,"v":0.69},{"t":152,"v":0.74},{"t":156,"v":0.66},{"t":160,"v":0.69},{"t":164,"v":0.76},{"t":168,"v":0.66},{"t":172,"v":0.64},{"t":176,"v":0.62},{"t":180,"v":0.59},{"t":184,"v":0.57},{"t":188,"v":0.57},{"t":192,"v":0.62},{"t":196,"v":0.57},{"t":200,"v":0.59},{"t":204,"v":0.66},{"t":208,"v":0.57},{"t":212,"v":0.52},{"t":216,"v":0.54},{"t":220,"v":0.52},{"t":224,"v":0.47},{"t":228,"v":0.45},{"t":232,"v":0.42},{"t":236,"v":0.40},{"t":240,"v":0.38},{"t":244,"v":0.35},{"t":248,"v":0.33},{"t":252,"v":0.30},{"t":256,"v":0.23},{"t":260,"v":0.28},{"t":264,"v":0.18},{"t":268,"v":0.13},{"t":272,"v":0.16},{"t":276,"v":0.06},{"t":280,"v":0.11},{"t":284,"v":0.04},{"t":288,"v":0.06},{"t":292,"v":-0.01},{"t":296,"v":0.04},{"t":300,"v":-0.06},{"t":304,"v":-0.01},{"t":308,"v":-0.08},{"t":312,"v":-0.01},{"t":316,"v":-0.11},{"t":320,"v":-0.15},{"t":324,"v":-0.20},{"t":328,"v":-0.15},{"t":332,"v":-0.25},{"t":336,"v":-0.30},{"t":340,"v":-0.35},{"t":344,"v":-0.30},{"t":348,"v":-0.42},{"t":352,"v":-0.35},{"t":356,"v":-0.49},{"t":360,"v":-0.44},{"t":364,"v":-0.54},{"t":368,"v":-0.59},{"t":372,"v":-0.63},{"t":376,"v":-0.61},{"t":380,"v":-0.68},{"t":384,"v":-0.66},{"t":388,"v":-0.78},{"t":392,"v":-0.83},{"t":396,"v":-0.73},{"t":400,"v":-0.88},{"t":404,"v":-0.92},{"t":408,"v":-0.85},{"t":412,"v":-0.97},{"t":416,"v":-0.92},{"t":420,"v":-1.02},{"t":424,"v":-1.12},{"t":428,"v":-1.04},{"t":432,"v":-1.12},{"t":436,"v":-1.16},{"t":440,"v":-1.07},{"t":444,"v":-1.21},{"t":448,"v":-1.21},{"t":452,"v":-1.26},{"t":456,"v":-1.31},{"t":460,"v":-1.40},{"t":464,"v":-1.43},{"t":468,"v":-1.50},{"t":472,"v":-1.40},{"t":476,"v":-1.36},{"t":480,"v":-1.55},{"t":484,"v":-1.40},{"t":488,"v":-1.21},{"t":492,"v":-1.50},{"t":496,"v":-1.40},{"t":500,"v":-1.64},{"t":504,"v":-1.60},{"t":508,"v":-1.50},{"t":511,"v":-1.62}],
"b4": [{"t":0,"v":0.71},{"t":2,"v":0.76},{"t":4,"v":0.69},{"t":6,"v":0.76},{"t":8,"v":0.57},{"t":10,"v":0.76},{"t":12,"v":0.62},{"t":14,"v":0.90},{"t":16,"v":1.24},{"t":17,"v":1.14},{"t":20,"v":1.34},{"t":23,"v":1.24},{"t":27,"v":1.43},{"t":30,"v":1.53},{"t":34,"v":1.48},{"t":38,"v":1.63},{"t":42,"v":1.38},{"t":45,"v":1.29},{"t":49,"v":1.00},{"t":53,"v":0.95},{"t":56,"v":0.62},{"t":60,"v":0.47},{"t":64,"v":0.38},{"t":68,"v":0.13},{"t":71,"v":0.38},{"t":75,"v":0.13},{"t":79,"v":0.13},{"t":82,"v":0.09},{"t":86,"v":0.04},{"t":90,"v":-0.15},{"t":93,"v":-0.20},{"t":97,"v":-0.25},{"t":101,"v":-0.42},{"t":105,"v":-0.20},{"t":108,"v":-0.30},{"t":112,"v":0.13},{"t":116,"v":0.23},{"t":119,"v":0.47},{"t":123,"v":0.28},{"t":127,"v":0.52},{"t":131,"v":0.52},{"t":134,"v":0.71},{"t":138,"v":0.86},{"t":142,"v":1.00},{"t":145,"v":1.14},{"t":149,"v":1.34},{"t":153,"v":1.14},{"t":156,"v":1.24},{"t":160,"v":1.38},{"t":164,"v":1.19},{"t":168,"v":1.34},{"t":171,"v":0.95},{"t":175,"v":0.81},{"t":179,"v":0.66},{"t":182,"v":0.52},{"t":186,"v":0.33},{"t":190,"v":-0.11},{"t":194,"v":-0.15},{"t":197,"v":-0.25},{"t":201,"v":-0.20},{"t":205,"v":-0.39},{"t":208,"v":-0.63},{"t":212,"v":-0.25},{"t":216,"v":-0.54},{"t":219,"v":-0.44},{"t":223,"v":-0.80},{"t":227,"v":-0.35},{"t":231,"v":-0.30},{"t":234,"v":-0.39},{"t":238,"v":-0.44},{"t":242,"v":-0.30},{"t":245,"v":-0.11},{"t":249,"v":0.04},{"t":253,"v":0.18},{"t":257,"v":0.33},{"t":260,"v":0.52},{"t":264,"v":0.62},{"t":268,"v":0.90},{"t":271,"v":1.05},{"t":275,"v":1.19},{"t":279,"v":1.29},{"t":282,"v":1.38},{"t":286,"v":1.31},{"t":290,"v":1.24},{"t":294,"v":1.34},{"t":297,"v":1.14},{"t":301,"v":1.05},{"t":305,"v":0.86},{"t":308,"v":0.81},{"t":312,"v":0.52},{"t":316,"v":0.33},{"t":320,"v":-0.39},{"t":323,"v":-0.06},{"t":327,"v":-0.30},{"t":331,"v":-0.54},{"t":334,"v":-0.73},{"t":338,"v":-0.97},{"t":342,"v":-1.07},{"t":345,"v":-1.12},{"t":349,"v":-1.26},{"t":353,"v":-1.02},{"t":357,"v":-1.16},{"t":360,"v":-1.07},{"t":364,"v":-0.92},{"t":368,"v":-0.78},{"t":371,"v":-0.73},{"t":375,"v":-0.68},{"t":379,"v":-0.63},{"t":383,"v":-0.54},{"t":386,"v":-0.44},{"t":390,"v":-0.25},{"t":394,"v":-0.11},{"t":397,"v":0.18},{"t":401,"v":0.28},{"t":405,"v":0.38},{"t":409,"v":0.47},{"t":412,"v":0.52},{"t":416,"v":0.62},{"t":418,"v":0.64},{"t":421,"v":0.42},{"t":425,"v":0.28},{"t":429,"v":0.13},{"t":433,"v":0.04},{"t":436,"v":-0.35},{"t":440,"v":-0.54},{"t":444,"v":-0.83},{"t":447,"v":-0.92},{"t":451,"v":-1.02},{"t":455,"v":-1.16},{"t":459,"v":-1.31},{"t":462,"v":-1.50},{"t":466,"v":-1.69},{"t":470,"v":-1.88},{"t":473,"v":-1.98},{"t":477,"v":-2.08},{"t":481,"v":-2.17},{"t":484,"v":-2.37},{"t":488,"v":-2.03},{"t":492,"v":-2.08},{"t":496,"v":-1.88},{"t":499,"v":-1.50},{"t":501,"v":-1.40},{"t":503,"v":-1.69},{"t":505,"v":-1.98},{"t":507,"v":-1.79},{"t":509,"v":-1.69},{"t":511,"v":-1.74}],
"c4": [{"t":15,"v":0.77},{"t":30,"v":0.81},{"t":45,"v":0.83},{"t":60,"v":0.83},{"t":75,"v":0.85},{"t":90,"v":0.88},{"t":100,"v":0.88},{"t":115,"v":0.85},{"t":130,"v":0.78},{"t":145,"v":0.74},{"t":160,"v":0.70},{"t":175,"v":0.64},{"t":190,"v":0.59},{"t":205,"v":0.57},{"t":220,"v":0.52},{"t":235,"v":0.43},{"t":250,"v":0.33},{"t":265,"v":0.21},{"t":280,"v":0.11},{"t":295,"v":0.04},{"t":310,"v":-0.03},{"t":325,"v":-0.13},{"t":340,"v":-0.27},{"t":355,"v":-0.42},{"t":370,"v":-0.59},{"t":385,"v":-0.73},{"t":400,"v":-0.85},{"t":415,"v":-0.95},{"t":430,"v":-1.07},{"t":445,"v":-1.19},{"t":458,"v":-1.31},{"t":470,"v":-1.40},{"t":485,"v":-1.43},{"t":497,"v":-1.45}],
"d4": [{"t":15,"v":1.00},{"t":20,"v":1.17},{"t":26,"v":1.34},{"t":33,"v":1.43},{"t":38,"v":1.41},{"t":44,"v":1.24},{"t":50,"v":1.00},{"t":56,"v":0.66},{"t":64,"v":0.38},{"t":71,"v":0.21},{"t":78,"v":0.11},{"t":86,"v":0.01},{"t":93,"v":-0.11},{"t":98,"v":-0.14},{"t":103,"v":-0.11},{"t":110,"v":0.04},{"t":118,"v":0.23},{"t":126,"v":0.42},{"t":133,"v":0.62},{"t":140,"v":0.86},{"t":148,"v":1.05},{"t":155,"v":1.15},{"t":161,"v":1.15},{"t":167,"v":1.07},{"t":173,"v":0.86},{"t":180,"v":0.57},{"t":187,"v":0.23},{"t":194,"v":-0.06},{"t":202,"v":-0.30},{"t":210,"v":-0.44},{"t":218,"v":-0.47},{"t":225,"v":-0.47},{"t":232,"v":-0.44},{"t":240,"v":-0.30},{"t":248,"v":-0.06},{"t":255,"v":0.23},{"t":262,"v":0.52},{"t":270,"v":0.86},{"t":278,"v":1.10},{"t":285,"v":1.19},{"t":290,"v":1.20},{"t":296,"v":1.12},{"t":302,"v":0.90},{"t":308,"v":0.62},{"t":315,"v":0.23},{"t":322,"v":-0.20},{"t":330,"v":-0.59},{"t":338,"v":-0.88},{"t":345,"v":-1.00},{"t":352,"v":-1.04},{"t":358,"v":-1.02},{"t":365,"v":-0.92},{"t":372,"v":-0.83},{"t":380,"v":-0.68},{"t":388,"v":-0.44},{"t":395,"v":-0.15},{"t":402,"v":0.13},{"t":409,"v":0.28},{"t":415,"v":0.32},{"t":421,"v":0.28},{"t":428,"v":0.09},{"t":435,"v":-0.20},{"t":442,"v":-0.59},{"t":450,"v":-1.02},{"t":458,"v":-1.36},{"t":465,"v":-1.64},{"t":472,"v":-1.88},{"t":478,"v":-2.00},{"t":484,"v":-2.04},{"t":490,"v":-1.98},{"t":497,"v":-1.91}]
},
"vconcat": [
{"hconcat": [
{"width": 461, "height": 306,
"encoding": {"x": {"field":"t","type":"quantitative","scale":{"domain":[0,512],"nice":false,"zero":false},"axis":{"title":"Time Steps","values":[0,100,200,300,400,500],"format":"d"}},
"y": {"field":"v","type":"quantitative","scale":{"domain":[-1.84,1.87],"nice":false,"zero":false},"axis":{"title":"Value","values":[-1.5,-1,-0.5,0,0.5,1,1.5],"format":".1f"}}},
"layer": [
{"data":{"name":"a1"},"mark":{"type":"line","strokeWidth":1.1,"clip":true},"encoding":{"color":{"datum":"Imputed Sample","type":"nominal","scale":{"domain":["Imputed Sample","Imputed Sample with Intervention","Smoothed Imputed Sample","Smoothed Imputed Sample with Intervention"],"range":["#008000","#ff0000","#006400","#8b0000"]},"legend":{"title":null}}}},
{"data":{"name":"b1"},"mark":{"type":"line","strokeWidth":1.1,"clip":true},"encoding":{"color":{"datum":"Imputed Sample with Intervention","type":"nominal"}}},
{"data":{"name":"c1"},"mark":{"type":"line","strokeWidth":1.9,"clip":true},"encoding":{"color":{"datum":"Smoothed Imputed Sample","type":"nominal"}}},
{"data":{"name":"d1"},"mark":{"type":"line","strokeWidth":1.9,"clip":true},"encoding":{"color":{"datum":"Smoothed Imputed Sample with Intervention","type":"nominal"}}}
]},
{"width": 461, "height": 306,
"encoding": {"x": {"field":"t","type":"quantitative","scale":{"domain":[0,512],"nice":false,"zero":false},"axis":{"title":"Time Steps","values":[0,100,200,300,400,500],"format":"d"}},
"y": {"field":"v","type":"quantitative","scale":{"domain":[-2.314,2.07],"nice":false,"zero":false},"axis":{"title":"Value","values":[-2,-1.5,-1,-0.5,0,0.5,1,1.5,2],"format":".1f"}}},
"layer": [
{"data":{"name":"a2"},"mark":{"type":"line","strokeWidth":1.1,"clip":true},"encoding":{"color":{"datum":"Imputed Sample","type":"nominal","scale":{"domain":["Imputed Sample","Imputed Sample with Intervention","Smoothed Imputed Sample","Smoothed Imputed Sample with Intervention"],"range":["#008000","#ff0000","#006400","#8b0000"]},"legend":{"title":null}}}},
{"data":{"name":"b2"},"mark":{"type":"line","strokeWidth":1.1,"clip":true},"encoding":{"color":{"datum":"Imputed Sample with Intervention","type":"nominal"}}},
{"data":{"name":"c2"},"mark":{"type":"line","strokeWidth":1.9,"clip":true},"encoding":{"color":{"datum":"Smoothed Imputed Sample","type":"nominal"}}},
{"data":{"name":"d2"},"mark":{"type":"line","strokeWidth":1.9,"clip":true},"encoding":{"color":{"datum":"Smoothed Imputed Sample with Intervention","type":"nominal"}}}
]}
], "spacing": 15.3, "resolve": {"scale": {"color": "independent"}, "legend": {"color": "independent"}}},
{"hconcat": [
{"width": 461, "height": 306,
"encoding": {"x": {"field":"t","type":"quantitative","scale":{"domain":[0,512],"nice":false,"zero":false},"axis":{"title":"Time Steps","values":[0,100,200,300,400,500],"format":"d"}},
"y": {"field":"v","type":"quantitative","scale":{"domain":[-1.82,1.894],"nice":false,"zero":false},"axis":{"title":"Value","values":[-1.5,-1,-0.5,0,0.5,1,1.5],"format":".1f"}}},
"layer": [
{"data":{"name":"a3"},"mark":{"type":"line","strokeWidth":1.1,"clip":true},"encoding":{"color":{"datum":"Imputed Sample","type":"nominal","scale":{"domain":["Imputed Sample","Imputed Sample with Intervention","Smoothed Imputed Sample","Smoothed Imputed Sample with Intervention"],"range":["#008000","#ff0000","#006400","#8b0000"]},"legend":{"title":null}}}},
{"data":{"name":"b3"},"mark":{"type":"line","strokeWidth":1.1,"clip":true},"encoding":{"color":{"datum":"Imputed Sample with Intervention","type":"nominal"}}},
{"data":{"name":"c3"},"mark":{"type":"line","strokeWidth":1.9,"clip":true},"encoding":{"color":{"datum":"Smoothed Imputed Sample","type":"nominal"}}},
{"data":{"name":"d3"},"mark":{"type":"line","strokeWidth":1.9,"clip":true},"encoding":{"color":{"datum":"Smoothed Imputed Sample with Intervention","type":"nominal"}}}
]},
{"width": 461, "height": 306,
"encoding": {"x": {"field":"t","type":"quantitative","scale":{"domain":[0,512],"nice":false,"zero":false},"axis":{"title":"Time Steps","values":[0,100,200,300,400,500],"format":"d"}},
"y": {"field":"v","type":"quantitative","scale":{"domain":[-2.576,1.837],"nice":false,"zero":false},"axis":{"title":"Value","values":[-2.5,-2,-1.5,-1,-0.5,0,0.5,1,1.5],"format":".1f"}}},
"layer": [
{"data":{"name":"a4"},"mark":{"type":"line","strokeWidth":1.1,"clip":true},"encoding":{"color":{"datum":"Imputed Sample","type":"nominal","scale":{"domain":["Imputed Sample","Imputed Sample with Intervention","Smoothed Imputed Sample","Smoothed Imputed Sample with Intervention"],"range":["#008000","#ff0000","#006400","#8b0000"]},"legend":{"title":null}}}},
{"data":{"name":"b4"},"mark":{"type":"line","strokeWidth":1.1,"clip":true},"encoding":{"color":{"datum":"Imputed Sample with Intervention","type":"nominal"}}},
{"data":{"name":"c4"},"mark":{"type":"line","strokeWidth":1.9,"clip":true},"encoding":{"color":{"datum":"Smoothed Imputed Sample","type":"nominal"}}},
{"data":{"name":"d4"},"mark":{"type":"line","strokeWidth":1.9,"clip":true},"encoding":{"color":{"datum":"Smoothed Imputed Sample with Intervention","type":"nominal"}}}
]}
], "spacing": 13.5, "resolve": {"scale": {"color": "independent"}, "legend": {"color": "independent"}}}
],
"config": {
"font": "DejaVu Sans",
"view": {"stroke": "#222222", "strokeWidth": 1.2},
"axis": {"labelFont": "DejaVu Sans", "labelFontSize": 11, "labelColor": "#000000", "titleFont": "DejaVu Sans", "titleFontSize": 12.3, "titleFontWeight": "normal", "titleColor": "#000000", "domain": false, "tickColor": "#000000", "tickSize": 3.5, "tickWidth": 1, "grid": true, "gridColor": "#b0b0b0", "gridDash": [2, 1.5], "gridOpacity": 0.8, "gridWidth": 0.8, "labelFlush": false, "labelOverlap": false},
"axisX": {"labelPadding": -1.5, "titlePadding": 2},
"axisY": {"labelPadding": 1, "titlePadding": 3},
"legend": {"orient": "top-right", "offset": 5, "labelFont": "DejaVu Sans", "labelFontSize": 8.5, "labelColor": "#222222", "symbolType": "stroke", "symbolSize": 144, "symbolStrokeWidth": 1.6, "labelOffset": 12, "padding": 2, "rowPadding": 0.7, "fillColor": "rgba(255,255,255,0.8)", "strokeColor": "#cccccc", "cornerRadius": 3, "labelLimit": 300}
}
}
